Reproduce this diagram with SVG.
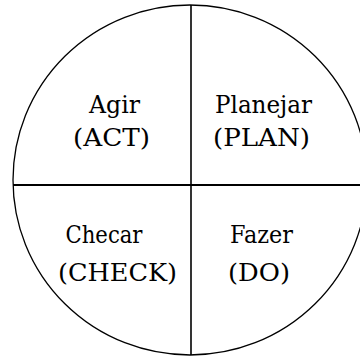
<svg xmlns="http://www.w3.org/2000/svg" width="360" height="356" viewBox="0 0 360 356">
<style>
.lbl{font-size:25px;fill:#000;text-anchor:middle;font-family:"DejaVu Serif",serif}
.ln{stroke:#000;fill:none}
</style>
<rect width="360" height="356" fill="#fff"/>
<g id="connectors">
<ellipse class="ln" cx="190" cy="180" rx="177" ry="175" stroke-width="1.3"/>
<line class="ln" x1="191" y1="5" x2="191" y2="355" stroke-width="1.6"/>
<line class="ln" x1="13" y1="185" x2="360" y2="185" stroke-width="1.8"/>
</g>
<g id="act"><text class="lbl" x="114.5" y="113" textLength="51" lengthAdjust="spacingAndGlyphs">Agir</text><text class="lbl" x="111.5" y="146" textLength="77" lengthAdjust="spacingAndGlyphs">(ACT)</text></g>
<g id="plan"><text class="lbl" x="263.5" y="113" textLength="97" lengthAdjust="spacingAndGlyphs">Planejar</text><text class="lbl" x="261.5" y="146" textLength="97" lengthAdjust="spacingAndGlyphs">(PLAN)</text></g>
<g id="check"><text class="lbl" x="104" y="243" textLength="77" lengthAdjust="spacingAndGlyphs">Checar</text><text class="lbl" x="117.5" y="281" textLength="119" lengthAdjust="spacingAndGlyphs">(CHECK)</text></g>
<g id="do"><text class="lbl" x="261.5" y="243" textLength="63" lengthAdjust="spacingAndGlyphs">Fazer</text><text class="lbl" x="259" y="281" textLength="62" lengthAdjust="spacingAndGlyphs">(DO)</text></g>
</svg>
